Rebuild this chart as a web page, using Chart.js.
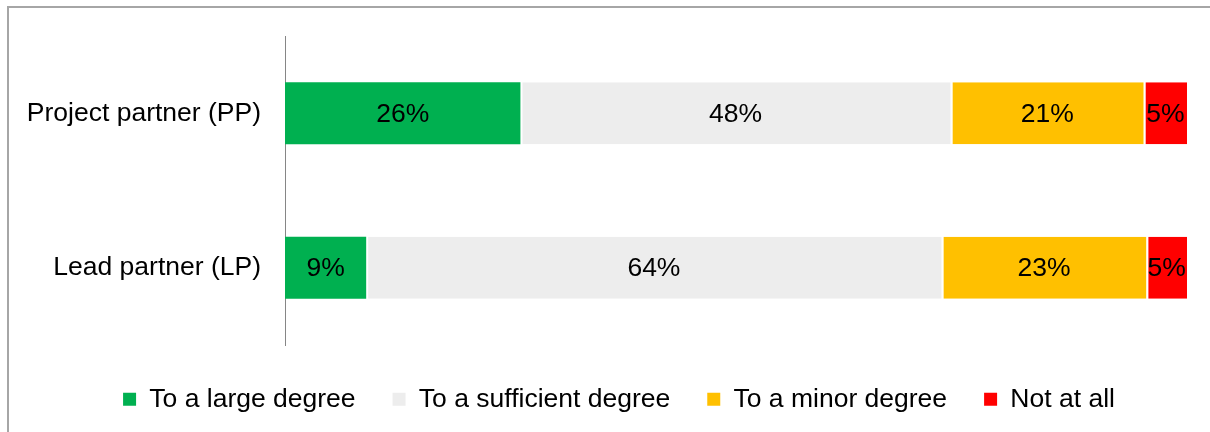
<!DOCTYPE html>
<html>
<head>
<meta charset="utf-8">
<script src="https://cdn.jsdelivr.net/npm/chart.js@4.4.1/dist/chart.umd.min.js"></script>
<style>
  html, body { margin: 0; padding: 0; background: #fff; }
  #wrap { position: relative; width: 1210px; height: 432px; }
</style>
</head>
<body>
<div id="wrap"><canvas id="partnerChart"></canvas></div>
<script>
"use strict";

// ---------------- DATA ----------------
const categories = ["Project partner (PP)", "Lead partner (LP)"];
const seriesNames = ["To a large degree", "To a sufficient degree", "To a minor degree", "Not at all"];
const largeDegree = [26.1, 9.0];
const sufficientDegree = [47.7, 63.8];
const minorDegree = [21.4, 22.7];
const notAtAll = [4.8, 4.5];
const seriesColors = ["#00B050", "#EDEDED", "#FFC000", "#FF0000"];

const FONT = "'Liberation Sans', Arial, Helvetica, sans-serif";
const FONT_SIZE = 26.5;

// ---------------- PLUGINS ----------------
// outer frame (only top and left edges fall inside the window)
const framePlugin = {
  id: "frame",
  beforeDraw(chart) {
    const c = chart.ctx;
    c.save();
    c.strokeStyle = "#A6A6A6";
    c.lineWidth = 2;
    c.beginPath();
    c.moveTo(8, 440);
    c.lineTo(8, 7);
    c.lineTo(1220, 7);
    c.stroke();
    c.restore();
  },
};

// percentage labels centred in each segment
const barLabels = {
  id: "barLabels",
  afterDatasetsDraw(chart) {
    const c = chart.ctx;
    c.save();
    c.font = FONT_SIZE + "px " + FONT;
    c.fillStyle = "#000";
    c.textAlign = "center";
    c.textBaseline = "middle";
    chart.data.datasets.forEach((ds, i) => {
      chart.getDatasetMeta(i).data.forEach((bar, j) => {
        const p = bar.getCenterPoint();
        c.fillText(Math.round(ds.data[j]) + "%", p.x, p.y + 1);
      });
    });
    c.restore();
  },
};

// ---------------- CHART ----------------
const seriesData = [largeDegree, sufficientDegree, minorDegree, notAtAll];

// white gap on the left of every segment except the first
const datasets = seriesNames.map((name, i) => ({
  label: name,
  data: seriesData[i],
  backgroundColor: seriesColors[i],
  borderColor: "#FFFFFF",
  borderWidth: { top: 0, bottom: 0, left: i > 0 ? 2 : 0, right: 0 },
  borderSkipped: false,
  barPercentage: 0.4,
  categoryPercentage: 1.0,
}));

new Chart(document.getElementById("partnerChart"), {
  type: "bar",
  data: { labels: categories, datasets },
  plugins: [framePlugin, barLabels],
  options: {
    indexAxis: "y",
    responsive: true,
    maintainAspectRatio: false,
    animation: false,
    layout: { padding: { top: 36, left: 28, right: 0, bottom: 9.5 } },
    scales: {
      x: {
        stacked: true,
        min: 0,
        max: 100,
        grid: { display: false, drawTicks: false },
        border: { display: false },
        ticks: { display: false },
        afterFit: (s) => { s.height = 4; },
      },
      y: {
        stacked: true,
        grid: { display: false, drawTicks: false },
        border: { display: true, color: "#868686", width: 1 },
        ticks: {
          color: "#000",
          padding: 24,
          font: { family: FONT, size: FONT_SIZE },
        },
        afterFit: (s) => {
          s.width = 257;
          s.paddingTop = 0;
          s.paddingBottom = 0;
        },
      },
      // empty spacer on the right so the bars stop short of the edge
      spacer: {
        type: "linear",
        axis: "y",
        position: "right",
        display: true,
        grid: { display: false, drawTicks: false },
        border: { display: false },
        ticks: { display: false },
        afterFit: (s) => { s.width = 23; },
      },
    },
    plugins: {
      tooltip: { enabled: false },
      legend: {
        position: "bottom",
        labels: {
          color: "#000",
          boxWidth: 13,
          boxHeight: 13,
          padding: 37,
          font: { family: FONT, size: FONT_SIZE },
          generateLabels: (chart) =>
            Chart.defaults.plugins.legend.labels
              .generateLabels(chart)
              .map((l) => ({ ...l, lineWidth: 0, strokeStyle: "rgba(0,0,0,0)" })),
        },
      },
    },
  },
});
</script>
</body>
</html>
